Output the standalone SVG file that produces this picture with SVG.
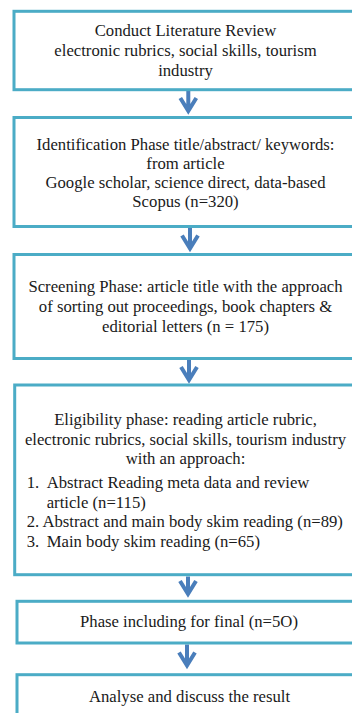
<svg xmlns="http://www.w3.org/2000/svg" width="352" height="713" viewBox="0 0 352 713">
<style>
.box{fill:#fff;stroke:#4BACC6;stroke-width:3}
text{font-family:'Liberation Serif','Times New Roman','DejaVu Serif',serif;font-size:16.7px;fill:#1a1a1a}
.t{text-anchor:middle}
.arr{fill:none;stroke:#4A7EBB;stroke-width:4;stroke-linejoin:miter}
</style>
<rect width="352" height="713" fill="#fff"/>
<g id="connectors">
<path class="arr" d="M188.3,91 V111 M180.3,98 L188.3,111 L196.3,98"/>
<path class="arr" d="M190,228 V248.5 M182,235.5 L190,248.5 L198,235.5"/>
<path class="arr" d="M189,360 V380 M181,367 L189,380 L197,367"/>
<path class="arr" d="M188,576.5 V594 M180,581 L188,594 L196,581"/>
<path class="arr" d="M187,644.5 V665.5 M179,652.5 L187,665.5 L195,652.5"/>
</g>
<g id="n1">
<rect class="box" x="14" y="11.3" width="343" height="78.4"/>
<text class="t" x="185.5" y="36" font-family="Liberation Serif, serif">Conduct Literature Review</text>
<text class="t" x="185.5" y="56">electronic rubrics, social skills, tourism</text>
<text class="t" x="185.5" y="76">industry</text>
</g>
<g id="n2">
<rect class="box" x="14" y="117.5" width="343" height="109"/>
<text class="t" x="185.5" y="149.5">Identification Phase title/abstract/ keywords:</text>
<text class="t" x="185.5" y="168.5">from article</text>
<text class="t" x="185.5" y="188">Google scholar, science direct, data-based</text>
<text class="t" x="185.5" y="207">Scopus (n=320)</text>
</g>
<g id="n3">
<rect class="box" x="14" y="254.5" width="343" height="104"/>
<text class="t" x="185.5" y="291.5">Screening Phase: article title with the approach</text>
<text class="t" x="185.5" y="311.5">of sorting out proceedings, book chapters &amp;</text>
<text class="t" x="185.5" y="331.5">editorial letters (n = 175)</text>
</g>
<g id="n4">
<rect class="box" x="14.7" y="385" width="343" height="189.7"/>
<text class="t" x="185.5" y="425">Eligibility phase: reading article rubric,</text>
<text class="t" x="185.5" y="444.5">electronic rubrics, social skills, tourism industry</text>
<text class="t" x="185.5" y="464">with an approach:</text>
<text x="26.7" y="488">1.</text>
<text x="46.7" y="488">Abstract Reading meta data and review</text>
<text x="46.7" y="507.5">article (n=115)</text>
<text x="26.7" y="527">2. Abstract and main body skim reading (n=89)</text>
<text x="26.7" y="547">3.</text>
<text x="46.7" y="547">Main body skim reading (n=65)</text>
</g>
<g id="n5">
<rect class="box" x="17" y="601.3" width="344" height="41.7"/>
<text class="t" x="189" y="626.7">Phase including for final (n=5O)</text>
</g>
<g id="n6">
<rect class="box" x="17" y="674.7" width="344" height="60"/>
<text class="t" x="189.5" y="701.7">Analyse and discuss the result</text>
</g>
</svg>
